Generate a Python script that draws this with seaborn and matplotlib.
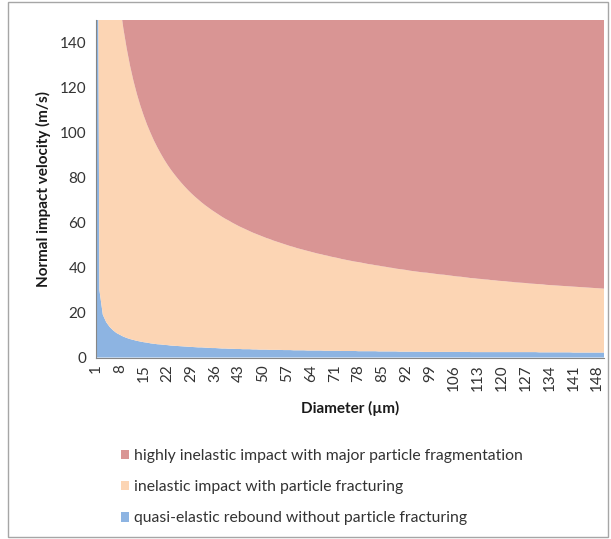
import matplotlib
matplotlib.use("Agg")
import matplotlib.pyplot as plt
from matplotlib.patches import Patch, Rectangle
import seaborn as sns
import numpy as np

# ---- data ----
diameters = list(range(1, 151))  # µm, category axis

# upper limit of quasi-elastic rebound (m/s)
quasi_elastic_limit = [
    430, 30, 19.0, 15.7, 13.6, 12.1, 10.9, 10.1, 9.3, 8.7,
    8.2, 7.8, 7.4, 7.1, 6.8, 6.6, 6.3, 6.1, 5.9, 5.8,
    5.6, 5.5, 5.3, 5.2, 5.1, 5.0, 4.9, 4.8, 4.7, 4.6,
    4.5, 4.5, 4.4, 4.3, 4.2, 4.2, 4.1, 4.0, 4.0, 3.9,
    3.9, 3.8, 3.8, 3.7, 3.7, 3.7, 3.6, 3.6, 3.5, 3.5,
    3.5, 3.4, 3.4, 3.4, 3.4, 3.3, 3.3, 3.3, 3.2, 3.2,
    3.2, 3.2, 3.1, 3.1, 3.1, 3.1, 3.1, 3.0, 3.0, 3.0,
    3.0, 3.0, 2.9, 2.9, 2.9, 2.9, 2.9, 2.8, 2.8, 2.8,
    2.8, 2.8, 2.8, 2.7, 2.7, 2.7, 2.7, 2.7, 2.7, 2.6,
    2.6, 2.6, 2.6, 2.6, 2.6, 2.6, 2.5, 2.5, 2.5, 2.5,
    2.5, 2.5, 2.5, 2.5, 2.5, 2.5, 2.5, 2.5, 2.5, 2.5,
    2.4, 2.4, 2.4, 2.4, 2.4, 2.4, 2.4, 2.4, 2.4, 2.4,
    2.4, 2.4, 2.4, 2.4, 2.4, 2.4, 2.4, 2.4, 2.4, 2.4,
    2.3, 2.3, 2.3, 2.3, 2.3, 2.3, 2.3, 2.3, 2.3, 2.3,
    2.2, 2.2, 2.2, 2.2, 2.2, 2.2, 2.2, 2.2, 2.2, 2.2,
]

# upper limit of inelastic impact with fracturing (m/s)
inelastic_limit = [
    584.4, 375.5, 290.4, 242.3, 210.7, 188.1, 171.0, 157.5, 146.5, 137.4,
    129.6, 122.9, 117.1, 112.0, 107.5, 103.4, 99.8, 96.4, 93.4, 90.6,
    88.0, 85.6, 83.4, 81.4, 79.5, 77.7, 76.0, 74.4, 72.9, 71.5,
    70.2, 68.9, 67.7, 66.6, 65.5, 64.5, 63.5, 62.5, 61.6, 60.8,
    59.9, 59.1, 58.3, 57.6, 56.9, 56.2, 55.5, 54.9, 54.3, 53.7,
    53.1, 52.6, 52.0, 51.5, 51.0, 50.5, 50.0, 49.5, 49.1, 48.6,
    48.2, 47.8, 47.4, 47.0, 46.6, 46.2, 45.9, 45.5, 45.2, 44.8,
    44.5, 44.2, 43.8, 43.5, 43.2, 42.9, 42.6, 42.4, 42.1, 41.8,
    41.5, 41.3, 41.0, 40.8, 40.5, 40.3, 40.0, 39.8, 39.5, 39.3,
    39.1, 38.9, 38.6, 38.4, 38.2, 38.0, 37.8, 37.7, 37.5, 37.3,
    37.1, 36.9, 36.8, 36.6, 36.4, 36.2, 36.0, 35.9, 35.7, 35.5,
    35.3, 35.2, 35.0, 34.9, 34.7, 34.6, 34.4, 34.3, 34.1, 34.0,
    33.9, 33.7, 33.6, 33.4, 33.3, 33.2, 33.1, 32.9, 32.8, 32.7,
    32.6, 32.5, 32.3, 32.2, 32.1, 32.0, 31.9, 31.8, 31.7, 31.6,
    31.5, 31.4, 31.3, 31.2, 31.1, 31.0, 30.9, 30.8, 30.7, 30.6,
]

velocity_top = 150
y_ticks = [0, 20, 40, 60, 80, 100, 120, 140]
label_step = 7

series_labels = [
    "highly inelastic impact with major particle fragmentation",
    "inelastic impact with particle fracturing",
    "quasi-elastic rebound without particle fracturing",
]
series_colors = ["#D99594", "#FCD5B4", "#8DB4E2"]

# ---- style ----
sns.set_theme(style="white")
plt.rcParams["font.family"] = ["Lato", "DejaVu Sans"]

W, H = 611, 539
fig = plt.figure(figsize=(W / 100, H / 100), dpi=100)
fig.patch.set_facecolor("white")
fig.patches.append(Rectangle((8 / W, 2 / H), 600 / W, 535 / H, transform=fig.transFigure,
                             fill=False, edgecolor="#A6A6A6", linewidth=1.0))

ax = fig.add_axes([96 / W, 1 - 357.5 / H, (604 - 96) / W, (357.5 - 20) / H])
ax.set_facecolor("white")

x = np.arange(len(diameters))
q = np.array(quasi_elastic_limit)
ine = np.array(inelastic_limit)
top = np.full(len(diameters), 1000.0)

ax.fill_between(x, 0, q, color=series_colors[2], linewidth=0)
ax.fill_between(x, q, np.maximum(ine, q), color=series_colors[1], linewidth=0)
ax.fill_between(x, np.maximum(ine, q), top, color=series_colors[0], linewidth=0)

ax.set_xlim(0, len(diameters) - 1)
ax.set_ylim(0, velocity_top)

ax.set_yticks(y_ticks)
ax.set_yticklabels([str(v) for v in y_ticks], fontsize=11, color="#333333")
ax.set_xticks(x)
ax.set_xticklabels([str(d) if i % label_step == 0 else "" for i, d in enumerate(diameters)],
                   rotation=90, fontsize=11, color="#333333")

for s in ["top", "right"]:
    ax.spines[s].set_visible(False)
ax.spines["left"].set_color("#868686")
ax.spines["bottom"].set_color("#868686")
ax.spines["left"].set_linewidth(0.8)
ax.spines["bottom"].set_linewidth(0.8)
ax.tick_params(axis="x", which="major", length=3, width=0.5, color="#868686", pad=2)
ax.tick_params(axis="y", which="major", length=4, width=0.8, color="#868686", pad=3)

ax.set_xlabel("Diameter (µm)", fontsize=11, fontweight="bold", color="#1a1a1a", labelpad=7)
ax.set_ylabel("Normal impact velocity (m/s)", fontsize=11, fontweight="bold", color="#1a1a1a", labelpad=6)

handles = [Patch(facecolor=c, edgecolor="none") for c in series_colors]
fig.legend(handles, series_labels, loc="upper left", bbox_to_anchor=(113 / W, 1 - 441 / H),
           frameon=False, fontsize=11.3, labelcolor="#333333",
           handlelength=0.55, handleheight=0.55, handletextpad=0.3, labelspacing=1.1,
           borderpad=0)

fig.savefig("out.png", dpi=100)
